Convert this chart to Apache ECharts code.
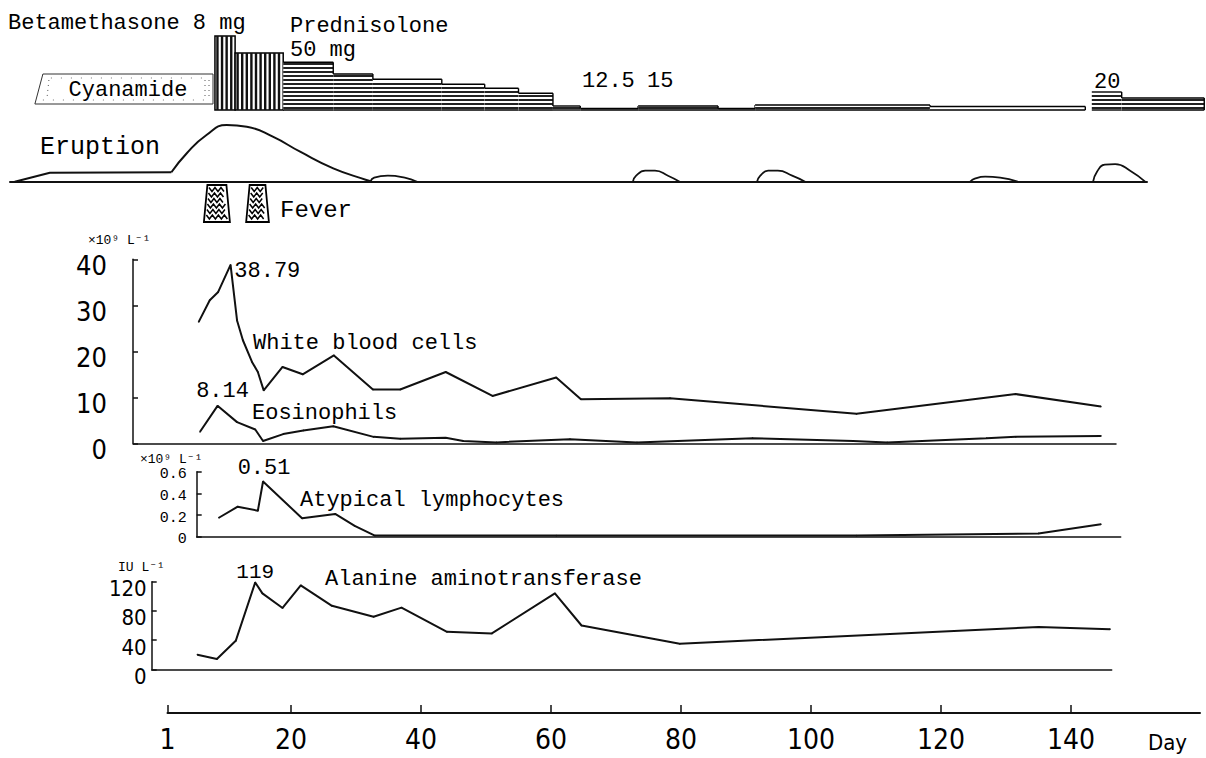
<!DOCTYPE html>
<html><head><meta charset="utf-8">
<script src="https://cdn.jsdelivr.net/npm/echarts@6/dist/echarts.min.js"></script>
<style>html,body{margin:0;padding:0;background:#fff}#c{width:1206px;height:758px}</style>
</head><body><div id="c"></div>
<script>
// ================= DATA =================
const dayTicks = [1, 20, 40, 60, 80, 100, 120, 140];

const wbcDays   = [5.8, 7.5, 8.8, 10.7, 11.7, 12.6, 14.0, 14.9, 15.8, 18.7, 21.8, 26.6, 32.6, 36.8, 43.8, 51.0, 60.8, 64.6, 78.3, 107, 131.5, 144.6];
const wbcValues = [26.4, 31.1, 32.9, 38.79, 26.7, 22.4, 17.7, 15.5, 11.5, 16.6, 15.0, 19.1, 11.7, 11.7, 15.5, 10.3, 14.3, 9.6, 9.8, 6.4, 10.7, 8.0];

const eosDays   = [6.0, 8.7, 11.7, 14.5, 15.7, 18.8, 21.9, 26.5, 32.7, 36.8, 43.8, 46.5, 51.6, 62.9, 73.2, 91.0, 106.5, 111.7, 127, 131.5, 144.6];
const eosValues = [2.5, 8.14, 4.6, 3.0, 0.5, 2.0, 2.8, 3.7, 1.4, 1.0, 1.2, 0.5, 0.2, 0.9, 0.2, 1.1, 0.5, 0.2, 1.1, 1.4, 1.6];

const atlDays   = [8.9, 11.8, 14.9, 15.7, 21.7, 26.8, 29.8, 32.9, 60.8, 107, 135, 144.6];
const atlValues = [0.175, 0.277, 0.24, 0.51, 0.17, 0.21, 0.10, 0.01, 0.01, 0.01, 0.03, 0.115];

const altDays   = [5.6, 8.6, 11.5, 14.5, 15.6, 18.7, 21.5, 26.3, 32.7, 37.0, 44.0, 50.9, 60.6, 64.7, 79.8, 135, 146];
const altValues = [20, 14, 39, 119, 104, 84, 115, 87, 72, 84.5, 51.4, 49.2, 104, 60, 35, 58, 55];

// eruption intensity (relative height)
const eruptionRampDays  = [-22.5, -17.1, 1.6];
const eruptionRampLevel = [0, 9, 9.4];
const eruptionDays  = [1.6, 4.0, 7.0, 10.1, 13.2, 17.2, 21.4, 26.5, 31.6, 32.4];
const eruptionLevel = [9.4, 28.7, 46.7, 56.7, 55, 45, 30, 13.4, 1.7, 0];
const flareDays = [
  [32.2, 32.8, 34.9, 37.5, 39.4],
  [72.6, 73.1, 74.5, 76.0, 78.0, 79.8],
  [91.7, 92.2, 93.4, 94.9, 97.1, 99.1],
  [124.5, 125.2, 126.8, 129.1, 131.8],
  [143.4, 144.0, 145.2, 146.8, 149.1, 151.4]
];
const flareLevel = [
  [0, 4, 6, 4, 0],
  [0, 6, 11, 11, 6, 0],
  [0, 6, 11, 11, 6, 0],
  [0, 3, 5, 4, 0],
  [0, 10, 17, 17.5, 11, 0]
];

// fever episodes (day spans)
const feverStart = [6.6, 13.1];
const feverEnd   = [10.6, 16.6];

// treatments (day spans, relative bar heights)
const cyanamideSpan = [-19.4, 8.0];
const betaStart = [8.3, 11.4];
const betaEnd   = [11.4, 18.8];
const betaLevel = [74, 57];
const predStart = [18.8, 26.5, 32.6, 43.2, 49.8, 55.0, 60.3, 64.5, 73.4, 85.7, 91.4, 118.3, 143.2, 147.8];
const predEnd   = [26.5, 32.6, 43.2, 49.8, 55.0, 60.3, 64.5, 73.4, 85.7, 91.4, 118.3, 142.2, 147.8, 160.5];
const predLevel = [47.7, 36, 30.7, 25.7, 21.7, 16.7, 4, 1.5, 4, 1.5, 5, 3.5, 18, 12];

// ================= LAYOUT / STYLE =================
const PX0 = 161, PPD = 6.5;               // pixel of day 0, pixels per day
const dayAt = px => (px - PX0) / PPD;
const MONO = "'Liberation Mono','DejaVu Sans Mono',monospace";
const NARROW = "'Liberation Sans Narrow','DejaVu Sans Condensed','Liberation Sans',sans-serif";
const INK = '#111';

const grids = [
  {left: 0,     top: 10,    width: 1206, height: 100},   // 0 treatments
  {left: 10,    top: 121.7, width: 1137, height: 60},    // 1 eruption
  {left: 0,     top: 185,   width: 1206, height: 37},    // 2 fever
  {left: 133,   top: 259.3, width: 983,  height: 184},   // 3 WBC / eos
  {left: 196.7, top: 471.7, width: 924,  height: 65},    // 4 atypical lymphocytes
  {left: 151.7, top: 581.7, width: 960,  height: 87.6},  // 5 ALT
  {left: PX0 + PPD * 1, top: 690, width: 1200 - (PX0 + PPD * 1), height: 23} // 6 day axis
];

function xAx(i, showLine, lw) {
  const g = grids[i];
  return {type: 'value', gridIndex: i, min: dayAt(g.left), max: dayAt(g.left + g.width),
    axisLine: {show: showLine, onZero: false, lineStyle: {color: INK, width: lw || 1.5}},
    axisTick: {show: false}, axisLabel: {show: false}, splitLine: {show: false}};
}
function yHidden(i, max) {
  return {type: 'value', gridIndex: i, min: 0, max: max, show: false, splitLine: {show: false},
    axisLine: {onZero: false}};
}
function yShown(i, max, interval, fontSize, family, margin, lineHeight, fmt) {
  return {type: 'value', gridIndex: i, min: 0, max: max, interval: interval,
    axisLine: {show: true, onZero: false, lineStyle: {color: INK, width: 1.5}},
    axisTick: {show: true, inside: true, length: 5, lineStyle: {color: INK, width: 1.5}},
    splitLine: {show: false},
    axisLabel: {show: true, color: '#000', fontSize: fontSize, fontFamily: family, margin: margin,
      verticalAlign: 'top', lineHeight: lineHeight, formatter: fmt}};
}

const xAxes = [xAx(0, false), xAx(1, true, 2), xAx(2, false), xAx(3, true), xAx(4, true), xAx(5, true),
  Object.assign(xAx(6, true, 2), {
    axisTick: {show: true, inside: true, length: 8, customValues: dayTicks, lineStyle: {color: INK, width: 1.5}},
    axisLabel: {show: true, customValues: dayTicks, color: '#000', fontSize: 28, fontFamily: NARROW, margin: 12}
  })];
const yAxes = [yHidden(0, 100), yHidden(1, 60), yHidden(2, 1),
  yShown(3, 40, 10, 27, NARROW, 26, 12),
  yShown(4, 0.6, 0.2, 15, MONO, 10, 6, v => v === 0 ? '0' : v.toFixed(1)),
  yShown(5, 120, 40, 22, NARROW, 5, 14),
  yHidden(6, 1)];

// ---------- helpers ----------
function pairs(xs, ys) { return xs.map((x, i) => [x, ys[i]]); }
function withPeakLabel(xs, ys, label) {
  let k = 0; ys.forEach((v, i) => { if (v > ys[k]) k = i; });
  return xs.map((x, i) => i === k ? {value: [x, ys[i]], label: Object.assign({show: true, color: '#000',
    fontFamily: MONO, fontSize: 22, formatter: p => String(p.value[1])}, label)} : [x, ys[i]]);
}
function lineSeries(idx, data, smooth, extra) {
  return Object.assign({type: 'line', xAxisIndex: idx, yAxisIndex: idx, data: data, smooth: smooth || false,
    symbol: 'none', silent: true, lineStyle: {color: INK, width: 2}, z: 5}, extra || {});
}
const DOTS = {symbol: 'circle', symbolSize: 1.5, showSymbol: true, showAllSymbol: true, itemStyle: {color: INK}};

// ---------- custom renderers ----------
function renderCyanamide(params, api) {
  const a = api.coord([api.value(0), 36]), b = api.coord([api.value(1), 6]);
  const slant = 8;
  const x0 = a[0], y0 = a[1], x1 = b[0], y1 = b[1];
  const ch = [
    {type: 'polygon', shape: {points: [[x0, y1], [x0 + slant, y0], [x1, y0], [x1, y1]]},
      style: {fill: '#fff', stroke: '#333', lineWidth: 1}},
    {type: 'line', shape: {x1: x0 + slant + 8, y1: y0 + 4, x2: x1 - 4, y2: y0 + 4}, style: {stroke: '#777', lineWidth: 1, lineDash: [1, 9]}},
    {type: 'line', shape: {x1: x0 + 8, y1: y1 - 4, x2: x1 - 4, y2: y1 - 4}, style: {stroke: '#777', lineWidth: 1, lineDash: [1, 9]}},
    {type: 'line', shape: {x1: x0 + 14, y1: y0 + 6, x2: x0 + 12, y2: y1 - 5}, style: {stroke: '#555', lineWidth: 1, lineDash: [1, 4]}},
    {type: 'line', shape: {x1: x1 - 8, y1: y0 + 6, x2: x1 - 8, y2: y1 - 5}, style: {stroke: '#555', lineWidth: 1, lineDash: [1, 4]}},
    {type: 'line', shape: {x1: x1 - 4, y1: y0 + 6, x2: x1 - 4, y2: y1 - 5}, style: {stroke: '#555', lineWidth: 1, lineDash: [1, 4]}},
    {type: 'text', style: {text: 'Cyanamide', x: (x0 + x1) / 2 + 4, y: (y0 + y1) / 2 + 1, align: 'center', verticalAlign: 'middle',
      font: '22px ' + MONO, fill: '#000'}}
  ];
  return {type: 'group', children: ch};
}
function renderBeta(params, api) {
  const a = api.coord([api.value(0), api.value(2)]), b = api.coord([api.value(1), 0]);
  const x0 = a[0], y0 = a[1], x1 = b[0], y1 = b[1];
  const ch = [{type: 'rect', shape: {x: x0, y: y0, width: x1 - x0, height: y1 - y0}, style: {fill: '#fff', stroke: '#000', lineWidth: 1.5}}];
  for (let x = x0 + 2.5; x < x1 - 1; x += 4.6) {
    ch.push({type: 'line', shape: {x1: x, y1: y0, x2: x, y2: y1}, style: {stroke: '#111', lineWidth: 2.4}});
  }
  return {type: 'group', children: ch};
}
function renderPred(params, api) {
  const i = params.dataIndex;
  const s = api.value(0), e = api.value(1), lv = api.value(2);
  const a = api.coord([s, lv]), b = api.coord([e, 0]);
  const x0 = a[0], y0 = a[1], x1 = b[0], y1 = b[1];
  const ch = [{type: 'rect', shape: {x: x0, y: y0, width: x1 - x0, height: y1 - y0}, style: {fill: '#fff'}}];
  for (let y = y1 - 2; y > y0 + 1.5; y -= 4) {
    ch.push({type: 'line', shape: {x1: x0, y1: y, x2: x1, y2: y}, style: {stroke: '#222', lineWidth: 2}});
  }
  ch.push({type: 'line', shape: {x1: x0, y1: y0, x2: x1, y2: y0}, style: {stroke: '#000', lineWidth: 1.4}});
  ch.push({type: 'line', shape: {x1: x0, y1: y1, x2: x1, y2: y1}, style: {stroke: '#000', lineWidth: 1.4}});
  const cont = i + 1 < predStart.length && Math.abs(predStart[i + 1] - e) < 0.01;
  const yEnd = cont ? api.coord([e, predLevel[i + 1]])[1] : y1;
  ch.push({type: 'line', shape: {x1: x1, y1: y0, x2: x1, y2: yEnd}, style: {stroke: '#000', lineWidth: 1.4}});
  if (!cont && i > 0 && Math.abs(predEnd[i - 1] - s) > 0.01) {
    ch.push({type: 'line', shape: {x1: x0, y1: y0, x2: x0, y2: y1}, style: {stroke: '#000', lineWidth: 1.4}});
  }
  return {type: 'group', children: ch};
}
function renderFever(params, api) {
  const bl = api.coord([api.value(0), 0]), br = api.coord([api.value(1), 0]);
  const yt = api.coord([api.value(0), 1])[1];
  const inset = 3.5, yb = bl[1];
  const ch = [{type: 'polygon', shape: {points: [[bl[0], yb], [bl[0] + inset, yt], [br[0] - inset, yt], [br[0], yb]]},
    style: {fill: '#fff', stroke: '#000', lineWidth: 1.8}}];
  for (let y = yt + 4.5; y < yb - 2; y += 5.5) {
    const f = (y - yt) / (yb - yt);
    const xl = bl[0] + inset * (1 - f) + 2, xr = br[0] - inset * (1 - f) - 2;
    const pts = []; let up = true;
    for (let x = xl; x <= xr + 0.01; x += 3) { pts.push([x, y + (up ? -2 : 2)]); up = !up; }
    ch.push({type: 'polyline', shape: {points: pts}, style: {stroke: '#000', lineWidth: 1.5, fill: null}});
  }
  return {type: 'group', children: ch};
}

// ---------- series ----------
const series = [
  {type: 'custom', xAxisIndex: 0, yAxisIndex: 0, renderItem: renderCyanamide, data: [[cyanamideSpan[0], cyanamideSpan[1]]], encode: {x: [0, 1]}, silent: true},
  {type: 'custom', xAxisIndex: 0, yAxisIndex: 0, renderItem: renderBeta, data: betaStart.map((s, i) => [s, betaEnd[i], betaLevel[i]]), encode: {x: [0, 1], y: 2}, silent: true},
  {type: 'custom', xAxisIndex: 0, yAxisIndex: 0, renderItem: renderPred, data: predStart.map((s, i) => [s, predEnd[i], predLevel[i]]), encode: {x: [0, 1], y: 2}, silent: true},
  lineSeries(1, pairs(eruptionRampDays, eruptionRampLevel), false),
  lineSeries(1, pairs(eruptionDays, eruptionLevel), 0.5),
  ...flareDays.map((d, i) => lineSeries(1, pairs(d, flareLevel[i]), 0.5, {lineStyle: {color: INK, width: 1.8}})),
  {type: 'custom', xAxisIndex: 2, yAxisIndex: 2, renderItem: renderFever, data: feverStart.map((s, i) => [s, feverEnd[i]]), encode: {x: [0, 1]}, silent: true},
  lineSeries(3, withPeakLabel(wbcDays, wbcValues, {position: 'right', distance: 3, offset: [0, 7]}), false, DOTS),
  lineSeries(3, withPeakLabel(eosDays, eosValues, {position: 'top', distance: 3, offset: [5, 0]}), false, DOTS),
  lineSeries(4, withPeakLabel(atlDays, atlValues, {position: 'top', distance: 1, offset: [1, 0]}), false, DOTS),
  lineSeries(5, withPeakLabel(altDays, altValues, {position: 'top', distance: 0, offset: [0, 1], fontSize: 21}), false, DOTS)
];

// ---------- annotation texts ----------
function txt(text, x, y, size, family) {
  return {type: 'text', x: x, y: y, silent: true, z: 10,
    style: {text: text, font: size + 'px ' + (family || MONO), fill: '#000', align: 'left', verticalAlign: 'middle'}};
}
const graphics = [
  txt('Betamethasone 8 mg', 8, 23, 22),
  txt('Prednisolone', 290, 26, 22),
  txt('50 mg', 290, 50, 22),
  txt('12.5', 582, 81, 22),
  txt('15', 647, 81, 22),
  txt('20', 1094, 82, 22),
  txt('Eruption', 40, 147, 25),
  txt('Fever', 280, 210, 24),
  txt('\u00d710\u2079 L\u207b\u00b9', 88, 240, 13),
  txt('White blood cells', 253, 343, 22),
  txt('Eosinophils', 252, 413, 22),
  txt('\u00d710\u2079 L\u207b\u00b9', 140, 459, 13),
  txt('Atypical lymphocytes', 300, 500, 22),
  txt('IU L\u207b\u00b9', 118, 567, 13),
  txt('Alanine aminotransferase', 325, 579, 22),
  txt('Day', 1148, 742, 22, NARROW)
];

const chart = echarts.init(document.getElementById('c'), null, {renderer: 'svg', width: 1206, height: 758});
chart.setOption({
  animation: false,
  backgroundColor: '#fff',
  textStyle: {fontFamily: MONO, color: '#000'},
  grid: grids.map(g => Object.assign({containLabel: false, outerBoundsMode: 'none'}, g)),
  xAxis: xAxes,
  yAxis: yAxes,
  series: series,
  graphic: graphics
});
</script>
</body></html>
